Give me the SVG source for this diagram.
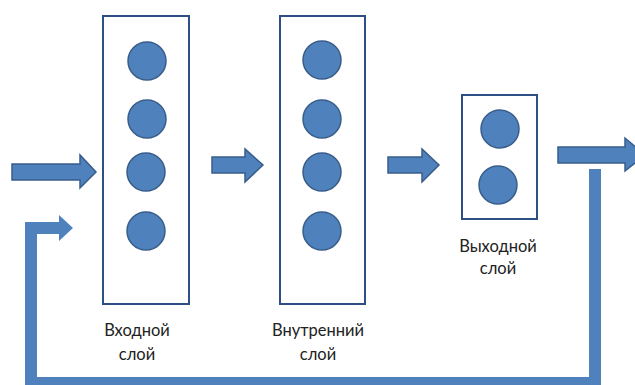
<svg xmlns="http://www.w3.org/2000/svg" width="635" height="385" viewBox="0 0 635 385">
<style>
.box{fill:#fff;stroke:#2E4F86;stroke-width:2}
.neuron{fill:#4F81BD;stroke:#385D8A;stroke-width:1.5}
.arrow{fill:#4F81BD;stroke:#385D8A;stroke-width:1.5;stroke-linejoin:miter}
.bar{fill:#4F81BD;stroke:none}
.lbl{font-family:Lato,"Open Sans","Liberation Sans",sans-serif;font-size:16.5px;fill:#222;text-anchor:middle}
</style>
<rect width="635" height="385" fill="#fff"/>
<g id="connectors">
<path class="arrow" d="M12,164 H80 V155 L96,172 L80,188 V180 H12 Z"/>
<path class="arrow" d="M212,157 H245 V149 L263,165 L245,182 V173 H212 Z"/>
<path class="arrow" d="M388,157 H422 V149 L439,165 L422,182 V173 H388 Z"/>
<path class="arrow" d="M558,147 H625 V138 L645,155 L625,171 V163 H558 Z"/>
<path class="bar" d="M589,169 H601 V389 H25 V222 H59 V215 L73,228 L59,241 V234 H37 V377 H589 Z"/>
</g>
<g id="input-layer">
<rect class="box" x="103" y="16" width="86" height="288"/>
<circle class="neuron" cx="147" cy="61" r="19"/>
<circle class="neuron" cx="147" cy="119" r="19"/>
<circle class="neuron" cx="146" cy="172" r="19"/>
<circle class="neuron" cx="146" cy="231" r="19"/>
<text class="lbl" x="137" y="336">Входной</text>
<text class="lbl" x="137" y="360">слой</text>
</g>
<g id="hidden-layer">
<rect class="box" x="280" y="16" width="85" height="288"/>
<circle class="neuron" cx="322" cy="60" r="19"/>
<circle class="neuron" cx="322" cy="119" r="19"/>
<circle class="neuron" cx="322" cy="172" r="19"/>
<circle class="neuron" cx="322" cy="231" r="19"/>
<text class="lbl" x="318" y="336">Внутренний</text>
<text class="lbl" x="318" y="360">слой</text>
</g>
<g id="output-layer">
<rect class="box" x="462" y="95" width="75" height="124"/>
<circle class="neuron" cx="500" cy="129" r="19"/>
<circle class="neuron" cx="498" cy="185" r="19"/>
<text class="lbl" x="498" y="252">Выходной</text>
<text class="lbl" x="498" y="274">слой</text>
</g>
</svg>
